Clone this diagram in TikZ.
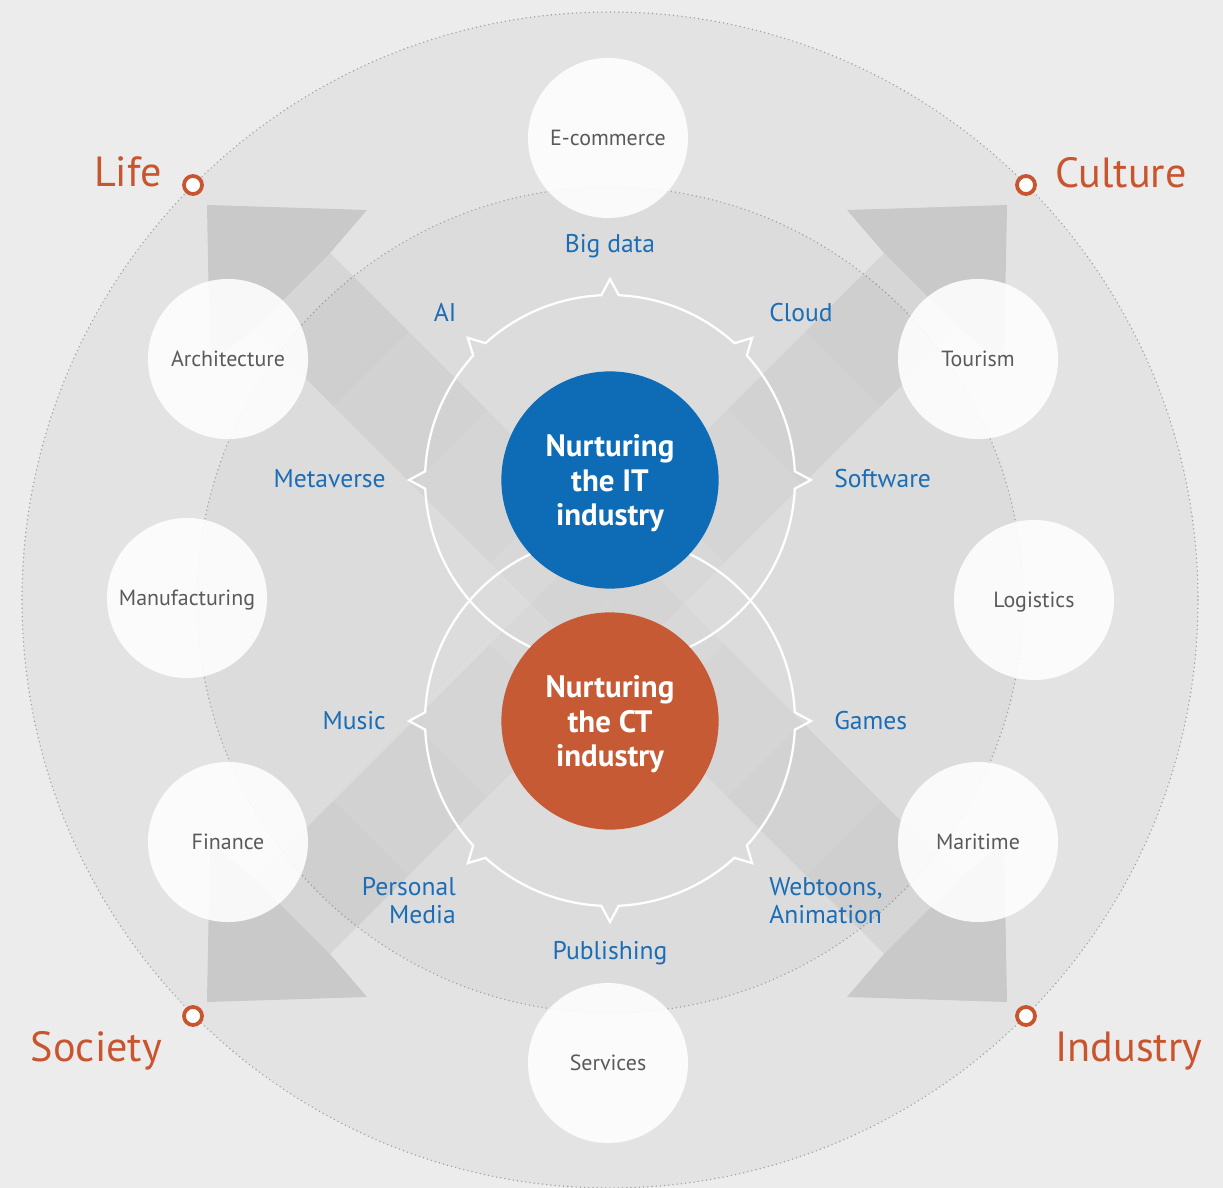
\documentclass[tikz,border=0pt]{standalone}
\usepackage{fontspec}
\setmainfont{PT Sans}

\definecolor{bg}{HTML}{ECECEC}
\definecolor{outerc}{HTML}{E3E3E3}
\definecolor{innerc}{HTML}{DCDCDC}
\definecolor{dotc}{HTML}{A0A0A0}
\definecolor{itblue}{HTML}{0E6BB5}
\definecolor{ctorange}{HTML}{C65A34}
\definecolor{lblblue}{HTML}{1B6DB5}
\definecolor{lblorange}{HTML}{C8552E}
\definecolor{greytxt}{HTML}{5A5A5A}

% one arrow polygon (head + shaft up to the given end points)
\newcommand\arrowpoly[5]{%
  \fill[black, fill opacity=#1] (207,205) -- (367,210) -- (330,253) -- (#2,#3) -- (#4,#5) -- (255,328) -- (210,365) -- cycle;}
% the arrow pointing to the top-left corner, darker at its head
\newcommand\bigarrow{%
  \arrowpoly{0.015}{643.5}{566.5}{568.5}{641.5}%
  \arrowpoly{0.01}{565}{488}{490}{563}%
  \arrowpoly{0.01}{487}{410}{412}{485}%
  \arrowpoly{0.012}{408.5}{331.5}{333.5}{406.5}%
  \fill[black, fill opacity=0.06] (207,205) -- (367,210) -- (330,253) -- (255,328) -- (210,365) -- cycle;}

\begin{document}
\begin{tikzpicture}[x=0.025cm, y=-0.025cm,
  dotline/.style={draw=dotc, line width=1.1pt, line cap=round, dash pattern=on 0pt off 3pt},
  topic/.style={circle, fill=white, fill opacity=0.88, text opacity=1, minimum size=4cm, inner sep=0pt,
    text=greytxt, font=\fontsize{15.6}{18}\selectfont, text height=10.9pt, text depth=0pt},
  disc/.style={circle, minimum size=5.43cm, inner sep=0pt, text=white, align=center,
    font=\fontsize{22}{24.5}\selectfont\bfseries, text depth=0pt},
  ring/.style={draw=white, line width=1.6pt, line join=miter},
  tech/.style={inner sep=0pt, text=lblblue, font=\fontsize{18.2}{19.9}\selectfont},
  realm/.style={inner sep=0pt, text=lblorange, font=\fontsize{30}{32}\selectfont},
  marker/.style={circle, draw=lblorange, fill=white, line width=2.7pt, minimum size=0.45cm, inner sep=0pt}
]
\useasboundingbox (0,0) rectangle (1223,1188);
\fill[bg] (0,0) rectangle (1223,1188);

% discs
\fill[outerc] (610,600) circle[radius=588];
\draw[dotline] (610,600) circle[radius=588];
\fill[innerc] (610,600) circle[radius=413];
\draw[dotline] (610,600) circle[radius=413];

% big arrows towards the four corners
\bigarrow
\begin{scope}[shift={(1214,0)}, xscale=-1] \bigarrow \end{scope}
\begin{scope}[shift={(0,1207)}, yscale=-1] \bigarrow \end{scope}
\begin{scope}[shift={(1214,1207)}, xscale=-1, yscale=-1] \bigarrow \end{scope}

% topic circles
\node[topic] (ecom) at (608,138) {E-commerce};
\node[topic] (arch) at (228,359) {Architecture};
\node[topic] (tour) at (978,359) {Tourism};
\node[topic] (manu) at (187,598) {Manufacturing};
\node[topic] (logi) at (1034,600) {Logistics};
\node[topic] (fina) at (228,842) {Finance};
\node[topic] (mari) at (978,842) {Maritime};
\node[topic] (serv) at (608,1063) {Services};

% white rings with spikes
\begin{scope}[shift={(610,480)}]
\draw[ring] (182.7:185)
  \foreach \a/\b [evaluate=\b as \sa using \a+2.7, evaluate=\b as \eb using \b-2.7, evaluate=\b as \nb using \b+2.7] in {180/225,225/270,270/315,315/360}
  { arc[start angle=\sa, end angle=\eb, radius=185] -- (\b:201) -- (\nb:185) }
  arc[start angle=362.7, end angle=537.3, radius=185] -- (180:201) -- cycle;
\end{scope}
\begin{scope}[shift={(610,721)}]
\draw[ring] (2.7:185)
  \foreach \a/\b [evaluate=\b as \sa using \a+2.7, evaluate=\b as \eb using \b-2.7, evaluate=\b as \nb using \b+2.7] in {0/45,45/90,90/135,135/180}
  { arc[start angle=\sa, end angle=\eb, radius=185] -- (\b:201) -- (\nb:185) }
  arc[start angle=182.7, end angle=357.3, radius=185] -- (360:201) -- cycle;
\end{scope}

% central discs
\node[disc, fill=itblue] (it) at (610,480) {Nurturing\\the IT\\industry};
\node[disc, fill=ctorange] (ct) at (610,721) {Nurturing\\the CT\\industry};

% technology labels
\node[tech, anchor=base] (bigdata) at (610,253) {Big data};
\node[tech, anchor=base] (ai) at (445,322) {AI};
\node[tech, anchor=base west] (cloud) at (769,322) {Cloud};
\node[tech, anchor=base east] (meta) at (386,487) {Metaverse};
\node[tech, anchor=base west] (soft) at (834,487) {Software};
\node[tech, anchor=base east] (music) at (386,729) {Music};
\node[tech, anchor=base west] (games) at (834,729) {Games};
\node[tech, anchor=north east, align=right] (pmedia) at (456,877) {Personal\\Media};
\node[tech, anchor=north west, align=left] (webtoon) at (769,877) {Webtoons,\\Animation};
\node[tech, anchor=base] (publ) at (610,959) {Publishing};

% realms
\node[marker] (mlife) at (193,185) {};
\node[marker] (mcult) at (1026,185) {};
\node[marker] (msoc) at (193,1016) {};
\node[marker] (mind) at (1026,1016) {};
\node[realm, anchor=base east] (life) at (162,187) {Life};
\node[realm, anchor=base west] (culture) at (1055,188) {Culture};
\node[realm, anchor=base east] (society) at (162,1061) {Society};
\node[realm, anchor=base west] (industry) at (1055,1061) {Industry};
\end{tikzpicture}
\end{document}
